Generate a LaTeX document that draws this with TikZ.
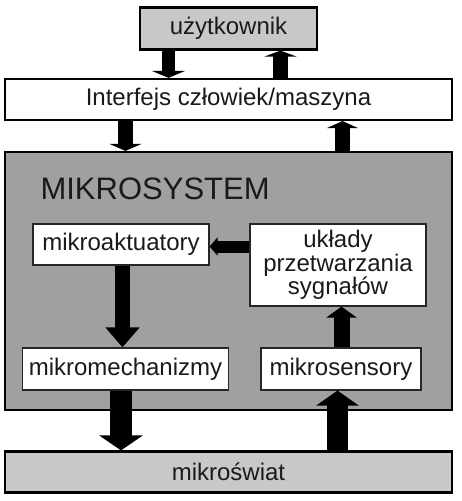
\documentclass[tikz,border=0pt]{standalone}
\usepackage{fontspec}
\setmainfont{Liberation Sans}
\usetikzlibrary{arrows.meta}
\definecolor{lightg}{HTML}{C8C8C8}
\definecolor{darkg}{HTML}{A0A0A0}
\definecolor{txt}{HTML}{1A1A1A}
\begin{document}
\begin{tikzpicture}[x=1pt,y=-1pt,
  outerbox/.style={draw=black,line width=2.2pt,inner sep=0pt,text=txt,font=\fontsize{24}{26}\selectfont},
  innerbox/.style={draw=black!85,line width=1.2pt,fill=white,inner sep=0pt,text=txt,align=center,font=\fontsize{24}{23.5}\selectfont},
  blockarrow/.style n args={3}{draw=black,line width=#1,-{Triangle[width=#2,length=#3]}}
]
\useasboundingbox (0,0) rectangle (462,501);
\fill[white] (0,0) rectangle (462,501);
% boxes
\node[outerbox,fill=lightg,minimum width=177pt,minimum height=42pt] (user) at (228.5,28.5) {użytkownik};
\node[outerbox,fill=white,minimum width=447pt,minimum height=41pt] (iface) at (228.5,99.5) {Interfejs człowiek/maszyna};
\node[outerbox,fill=darkg,minimum width=447pt,minimum height=258pt] (sys) at (228.5,281) {};
\node[anchor=west,text=txt,font=\fontsize{31}{34}\selectfont] (systitle) at (37,188.5) {MIKROSYSTEM};
\node[innerbox,minimum width=176pt,minimum height=41pt] (act) at (121,244.5) {mikroaktuatory};
\node[innerbox,minimum width=176pt,minimum height=82pt] (proc) at (338,265) {układy\\przetwarzania\\sygnałów};
\node[innerbox,minimum width=206pt,minimum height=42pt] (mech) at (125.5,369) {mikromechanizmy};
\node[innerbox,minimum width=160pt,minimum height=42pt] (sens) at (341,369) {mikrosensory};
\node[outerbox,fill=lightg,minimum width=447pt,minimum height=41pt] (world) at (228.5,472) {mikroświat};
% arrows
\draw[blockarrow={13pt}{33pt}{7pt}] (user.south -| 168.5,0) -- (iface.north -| 168.5,0);
\draw[blockarrow={15pt}{32pt}{6pt}] (iface.north -| 280.5,0) -- (user.south -| 280.5,0);
\draw[blockarrow={15pt}{32pt}{7pt}] (iface.south -| 125.5,0) -- (sys.north -| 125.5,0);
\draw[blockarrow={15pt}{31pt}{7pt}] (sys.north -| 342.5,0) -- (iface.south -| 342.5,0);
\draw[blockarrow={12pt}{18pt}{8pt}] (proc.west |- 0,246.5) -- (act.east |- 0,246.5);
\draw[blockarrow={15pt}{33pt}{20pt}] (act.south -| 122.5,0) -- (mech.north -| 122.5,0);
\draw[blockarrow={16pt}{30pt}{11pt}] (sens.north -| 341.5,0) -- (proc.south -| 341.5,0);
\draw[blockarrow={22pt}{43pt}{15pt}] (mech.south -| 121,0) -- (world.north -| 121,0);
\draw[blockarrow={21pt}{42pt}{15pt}] (world.north -| 337.5,0) -- (sens.south -| 337.5,0);
\end{tikzpicture}
\end{document}
